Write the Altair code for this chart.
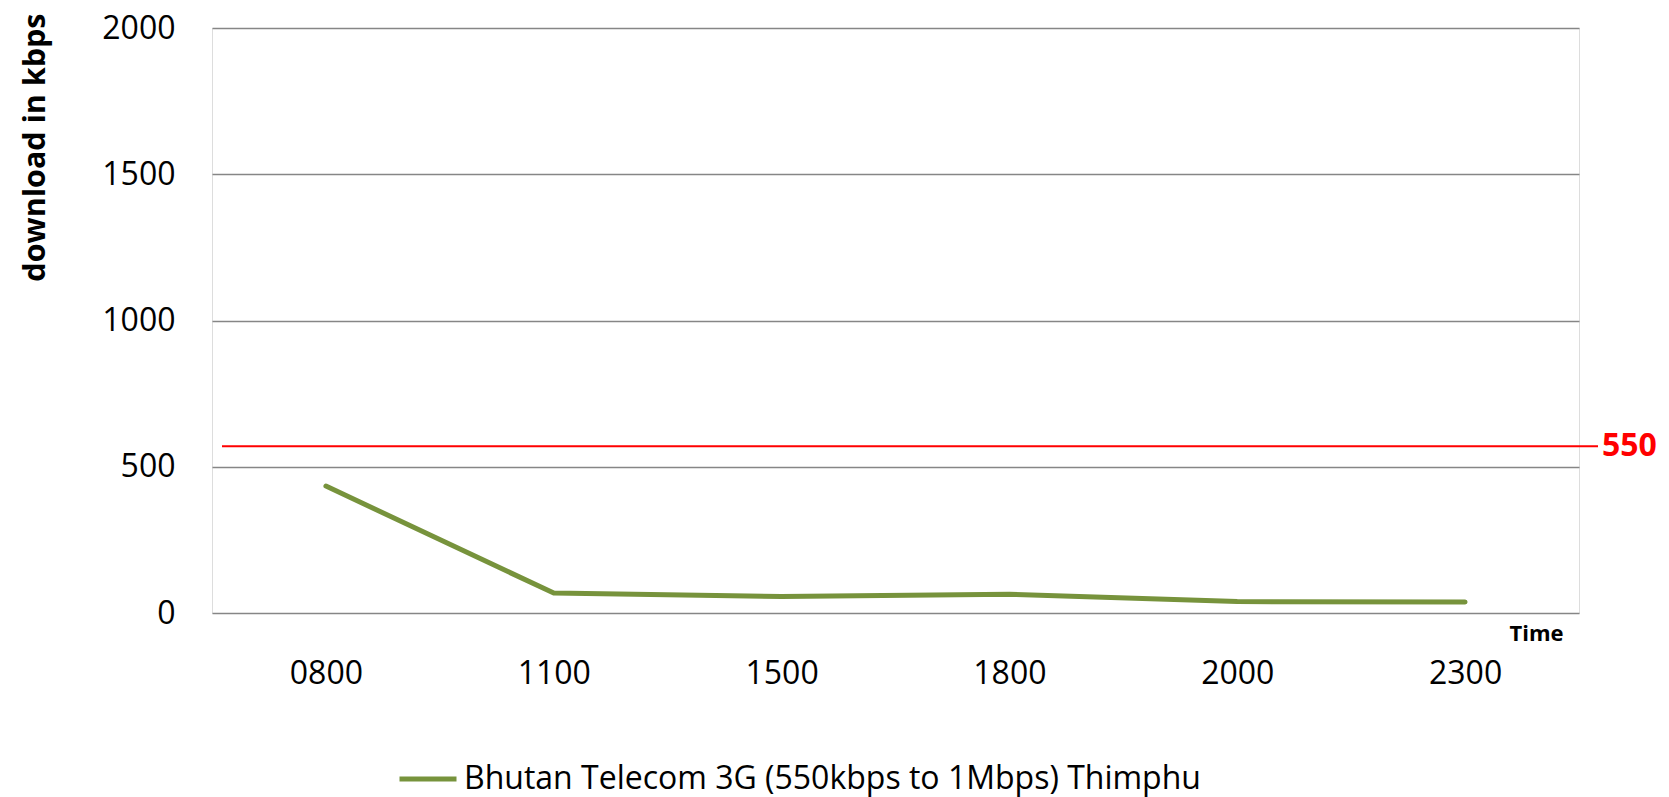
import altair as alt
import pandas as pd

times = ["0800", "1100", "1500", "1800", "2000", "2300"]
download = [434, 68, 56, 64, 39, 38]
series_name = "Bhutan Telecom 3G (550kbps to 1Mbps) Thimphu"
ref_value = [570]
ref_label = ["550"]
y_ticks = [0, 500, 1000, 1500, 2000]

df = pd.DataFrame({"time": times, "download": download, "series": [series_name] * len(times)})
ref_df = pd.DataFrame({"value": ref_value, "label": ref_label})

W, H = 1367, 585
FONT = "Open Sans"

x_enc = alt.X(
    "time:O", sort=times,
    scale=alt.Scale(type="point", padding=0.5, domain=times),
    axis=alt.Axis(
        title="Time", labelFontSize=32, labelFont=FONT, labelColor="black", labelAngle=0,
        ticks=False, domain=False, grid=False, labelPadding=60, labelBaseline="middle",
        titleFontSize=22, titleFont=FONT, titleFontWeight="bold", titleColor="black",
        titleX=1351, titleY=20, titleAlign="right", titleBaseline="middle",
    ),
)
y_enc = alt.Y(
    "download:Q",
    scale=alt.Scale(domain=[0, 2000], nice=False, zero=True),
    axis=alt.Axis(
        values=y_ticks, format="d", title="download in kbps", labelFontSize=32, labelFont=FONT,
        labelColor="black", ticks=False, domain=False, labelPadding=37,
        grid=True, gridColor="#868686", gridWidth=1.6,
        titleFontSize=30.5, titleFont=FONT, titleFontWeight="bold", titleColor="black",
        titleAngle=270, titleAlign="right", titleBaseline="middle", titleX=-177, titleY=-15,
    ),
)

line = alt.Chart(df).mark_line(strokeWidth=5, strokeCap="round", strokeJoin="round").encode(
    x=x_enc,
    y=y_enc,
    color=alt.Color(
        "series:N",
        scale=alt.Scale(domain=[series_name], range=["#77933C"]),
        legend=alt.Legend(
            title=None, orient="none", legendX=185, legendY=720, direction="horizontal",
            symbolType="stroke", symbolSize=3249, symbolStrokeWidth=5,
            labelFontSize=32, labelFont=FONT, labelColor="black", labelOffset=5,
            labelLimit=0,
        ),
    ),
)

rule = alt.Chart(ref_df).mark_rule(color="#FF0000", strokeWidth=2).encode(
    x=alt.value(10), x2=alt.value(1386),
    y=alt.Y("value:Q", scale=alt.Scale(domain=[0, 2000])),
)

label = alt.Chart(ref_df).mark_text(
    color="#FF0000", fontSize=32, fontWeight="bold", font=FONT, align="left", baseline="middle"
).encode(
    x=alt.value(1390),
    y=alt.Y("value:Q", scale=alt.Scale(domain=[0, 2000])),
    text="label:N",
)

chart = alt.layer(rule, line, label).properties(
    width=W, height=H,
    autosize=alt.AutoSizeParams(type="none"),
    padding={"left": 204, "top": 20, "right": 82, "bottom": 184},
).configure_view(stroke=None).configure(background="white")

chart.save("out.html", embed_options={"renderer": "svg", "actions": False})
